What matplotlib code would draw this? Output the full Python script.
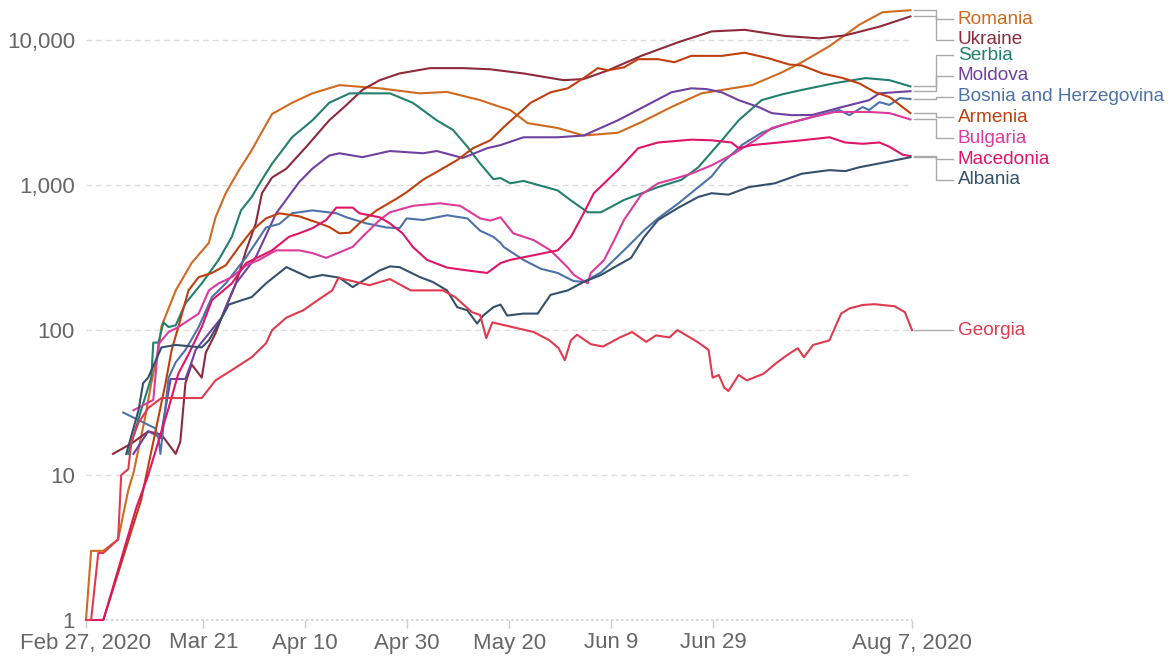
import numpy as np
import pandas as pd
import matplotlib
matplotlib.use("Agg")
import matplotlib.pyplot as plt
from matplotlib.ticker import NullLocator

plt.rcParams["font.family"] = ["Liberation Sans", "DejaVu Sans"]

START = pd.Timestamp("2020-02-27")

# ── data: days since Feb 27, 2020 / value ──
romania_days = [0, 1, 3.4, 6.3, 8.3, 9.3, 11.6, 12.8, 14.2, 14.8, 17.6, 20.7, 24.1, 25.4, 27.4, 30,
                32.5, 33.9, 36.5, 37.9, 40.4, 44.4, 49.7, 57.6, 65.5, 70.8, 77.3, 81.3, 83.2, 86.6,
                92.5, 97.6, 104.3, 108.9, 114.8, 120.7, 130.6, 136.5, 140.4, 145.8, 151.7, 156.2, 161.7]
romania_vals = [1, 3, 3, 3.6, 7.9, 10.3, 25, 43, 73, 106, 188, 290, 400, 600, 880, 1270,
                1740, 2140, 3100, 3300, 3700, 4300, 4900, 4660, 4300, 4400, 3860, 3460, 3300, 2680,
                2480, 2200, 2300, 2720, 3460, 4300, 4900, 6000, 7050, 9100, 12800, 15600, 16100]

ukraine_days = [5.3, 8.9, 12.2, 14.8, 17.6, 18.5, 19.5, 20.7, 22.7, 23.5, 25.4, 27.4, 29.4, 31.4,
                33.3, 34.5, 36.5, 39.3, 43.2, 47.7, 51.1, 54.2, 57.6, 61.5, 67.5, 74, 79.3, 85.8,
                93.7, 97.6, 102.4, 108.9, 116.2, 122.7, 129.2, 137.1, 143.8, 148.9, 155.6, 161.7]
ukraine_vals = [14, 16.5, 20, 19, 14, 17, 43, 58, 47, 70, 95, 144, 210, 355,
                545, 880, 1130, 1300, 1840, 2800, 3580, 4540, 5300, 5900, 6420, 6420, 6300, 5900,
                5300, 5400, 6200, 7800, 9700, 11500, 11800, 10700, 10300, 10800, 12400, 14600]

serbia_days = [8.3, 10.8, 12.8, 13.2, 14.2, 15.2, 16.2, 17.6, 19.5, 22.7, 26, 28.6, 30.4, 32.5,
               34.5, 36.5, 38.5, 40.4, 44.4, 47.7, 51.7, 59.6, 64.1, 68.8, 72, 74.8, 77.3, 79.9,
               81.3, 83.2, 85.8, 92.5, 95, 98.4, 101, 105.5, 112.2, 116.8, 120.1, 124.7, 128,
               132.5, 136.5, 140.4, 146.9, 152.9, 157.6, 161.7]
serbia_vals = [14, 28, 47, 82, 82, 113, 105, 108, 153, 210, 305, 440, 670, 830,
               1090, 1410, 1740, 2140, 2800, 3700, 4300, 4300, 3700, 2800, 2400, 1840, 1410, 1100,
               1120, 1030, 1070, 920, 790, 650, 650, 790, 970, 1090, 1330, 2040, 2800,
               3860, 4230, 4540, 5060, 5480, 5300, 4800]

moldova_days = [9.3, 12.2, 13.6, 14.6, 16.6, 19.5, 20.7, 21.5, 24.1, 26.6, 29.4, 33.3, 37.3, 40.4,
                41.8, 44.4, 47.7, 49.7, 54.2, 59.6, 66.1, 68.8, 73.9, 78.7, 81.3, 85.8, 92.5, 97.6,
                104.3, 108.9, 114.8, 118.7, 121.7, 124.7, 128, 131.9, 134.5, 138.4, 142.4, 148.3,
                153.6, 155.6, 161.7]
moldova_vals = [14, 20, 19, 18, 46, 46, 60, 73, 95, 122, 210, 318, 640, 900,
                1050, 1300, 1600, 1660, 1560, 1720, 1660, 1720, 1540, 1800, 1890, 2140, 2140, 2200,
                2800, 3400, 4370, 4660, 4600, 4370, 3860, 3460, 3140, 3040, 3050, 3460,
                3860, 4300, 4450]

bosnia_days = [7.3, 13.6, 14.2, 14.6, 16.2, 17.6, 19.5, 22.1, 24.7, 27.4, 31.4, 35.3, 37.9, 40.4,
               44.4, 49.1, 51.1, 55, 59, 61.5, 62.9, 66.1, 70.8, 74.8, 77.3, 79.9, 81.3, 81.9,
               85.8, 89.2, 92.5, 95.6, 97.6, 101, 105.5, 109.5, 112.2, 116.2, 120.1, 122.7, 124.7,
               128.6, 132.5, 136.5, 142.4, 147.7, 149.7, 152.3, 153.6, 155.6, 157.6, 159.6, 161.7]
bosnia_vals = [27, 21, 18, 14, 47, 60, 73, 105, 169, 210, 318, 510, 540, 640,
               670, 640, 600, 545, 510, 505, 590, 575, 620, 590, 485, 440, 400, 375,
               305, 265, 248, 218, 215, 250, 355, 490, 590, 750, 970, 1150, 1410,
               1890, 2300, 2600, 2950, 3300, 3040, 3460, 3300, 3740, 3580, 3990, 3930]

armenia_days = [2, 3.4, 10.8, 14.2, 15.6, 16.8, 18.1, 20.1, 22.1, 24.7, 27.4, 30, 32.5, 35.3,
                37.9, 41.8, 45.8, 47.7, 49.7, 51.7, 53.6, 57, 61, 62.9, 66.1, 69.4, 72.8, 75.9,
                79.3, 81.9, 87.2, 91.1, 94.5, 97.6, 100.4, 102.4, 105.5, 108.3, 112.2, 115.4,
                118.7, 124.7, 129.2, 133.9, 137.9, 140.4, 144.4, 148.3, 151.7, 154.8, 157.6, 161.7]
armenia_vals = [1, 1, 6.7, 25, 43, 73, 105, 188, 232, 248, 280, 375, 485, 590,
                640, 610, 545, 515, 465, 470, 545, 670, 810, 895, 1090, 1270, 1490, 1800,
                2040, 2510, 3700, 4370, 4660, 5480, 6420, 6200, 6500, 7400, 7400, 7050,
                7800, 7800, 8200, 7500, 6800, 6700, 5900, 5500, 5030, 4370, 4050, 3140]

bulgaria_days = [9.3, 13.2, 14.2, 16.2, 18.1, 22.1, 24.1, 26, 28.6, 31.4, 33.9, 37.3, 41.8, 44.4,
                 47.1, 52.3, 54.2, 57.6, 59.6, 64.1, 69.4, 73.4, 77.3, 79.3, 81.3, 83.8, 87.8,
                 91.1, 94.5, 95.7, 98.4, 99, 101.6, 103.6, 105.5, 108.9, 112.2, 114.8, 118.7,
                 122.7, 127.2, 131.2, 134.5, 138.5, 142.4, 146.9, 153.6, 157.6, 161.7]
bulgaria_vals = [28, 33, 80, 97, 105, 130, 188, 210, 232, 280, 305, 355, 355, 340,
                 315, 375, 440, 575, 650, 720, 750, 720, 590, 570, 600, 465, 418,
                 355, 270, 240, 210, 248, 304, 418, 575, 860, 1030, 1090, 1200,
                 1370, 1660, 2040, 2480, 2720, 2950, 3200, 3200, 3140, 2840]

macedonia_days = [0, 3.4, 9.9, 12.2, 14.2, 16.2, 18.1, 20.1, 22.7, 24.7, 28.6, 31.4, 36.5, 39.8,
                  41.8, 44.4, 47.1, 49.1, 52.3, 53.6, 57.6, 59.6, 62.1, 64.1, 66.9, 70.8, 74.8,
                  78.7, 81.3, 83.2, 85.8, 92.5, 95.1, 97.6, 99.6, 104.3, 108.3, 112.2, 118.7,
                  122.7, 126.6, 128, 130.6, 135.9, 140.4, 145.8, 148.9, 152.3, 155.6, 157.6,
                  160.2, 161.7]
macedonia_vals = [1, 1, 6, 10, 17, 29, 50, 68, 105, 161, 210, 290, 355, 440,
                  465, 505, 575, 700, 700, 640, 600, 545, 465, 375, 305, 270, 258,
                  248, 290, 305, 318, 355, 440, 640, 880, 1270, 1800, 1970, 2060,
                  2040, 1970, 1800, 1890, 1970, 2040, 2140, 1970, 1930, 1970, 1840,
                  1620, 1590]

albania_days = [7.9, 10.3, 11.2, 12.2, 14.8, 17.6, 22.7, 24.1, 26, 28, 30.6, 32.5, 35.3, 39.3,
                41.8, 43.8, 46.4, 49.7, 52.3, 57.6, 59.6, 61.5, 65.5, 68, 70.8, 72.8, 74.8, 76.7,
                77.9, 79.9, 81.3, 82.6, 85.8, 88.6, 91.1, 94.5, 97.6, 101, 104.3, 106.9, 109.5,
                112.2, 116.2, 120.1, 122.7, 126, 130, 135.1, 140.4, 145.8, 148.9, 151.7, 156.8,
                161.7]
albania_vals = [14, 28, 43, 47, 76, 79, 76, 85, 111, 150, 161, 169, 210, 272,
                248, 230, 240, 230, 198, 258, 275, 272, 232, 215, 188, 144, 137, 111,
                126, 144, 150, 126, 130, 130, 175, 188, 215, 240, 280, 315, 440,
                575, 700, 830, 880, 860, 970, 1030, 1200, 1270, 1250, 1330, 1440,
                1560]

georgia_days = [0, 1, 2.4, 3.4, 6.3, 6.9, 8.3, 8.9, 10.3, 12.2, 14.8, 22.7, 25.4, 28.6, 32.5,
                35.3, 36.5, 39.3, 42.6, 46, 48.3, 49.5, 51.5, 55.6, 59.6, 63.7, 70, 72.4, 75.7,
                77.3, 78.5, 79.7, 82.1, 84.6, 87.8, 90.9, 92.7, 93.9, 95.1, 96.3, 99, 101.4,
                104.7, 107.1, 109.9, 111.8, 114.4, 116, 119.9, 122.1, 122.9, 124.1, 125.2, 126,
                128, 129.6, 132.9, 135.3, 137.7, 139.6, 140.8, 142.6, 145.8, 148.1, 149.7, 152.3,
                154.6, 158.6, 160.6, 162]
georgia_vals = [1, 1, 2.9, 2.9, 3.6, 10, 11, 17, 23, 29, 34, 34, 45, 53, 65,
                81, 100, 122, 137, 166, 188, 229, 221, 204, 225, 188, 188, 169, 133,
                127, 88, 113, 108, 103, 97, 85, 75, 62, 85, 93, 80, 77,
                89, 97, 83, 92, 89, 100, 83, 73, 47, 49, 40, 38,
                49, 45, 50, 59, 68, 75, 65, 79, 85, 130, 141, 149,
                151, 146, 133, 100]

series = [
    ("Romania", romania_days, romania_vals, "#cf6a1f"),
    ("Ukraine", ukraine_days, ukraine_vals, "#8c2a3c"),
    ("Serbia", serbia_days, serbia_vals, "#23806e"),
    ("Moldova", moldova_days, moldova_vals, "#7040a0"),
    ("Bosnia and Herzegovina", bosnia_days, bosnia_vals, "#4d72a8"),
    ("Armenia", armenia_days, armenia_vals, "#bf3f0f"),
    ("Bulgaria", bulgaria_days, bulgaria_vals, "#dc3a9d"),
    ("Macedonia", macedonia_days, macedonia_vals, "#df1567"),
    ("Albania", albania_days, albania_vals, "#35506b"),
    ("Georgia", georgia_days, georgia_vals, "#e03a4e"),
]

tick_dates = ["2020-02-27", "2020-03-21", "2020-04-10", "2020-04-30",
              "2020-05-20", "2020-06-09", "2020-06-29", "2020-08-07"]
tick_labels = ["Feb 27, 2020", "Mar 21", "Apr 10", "Apr 30",
               "May 20", "Jun 9", "Jun 29", "Aug 7, 2020"]
ytick_vals = [1, 10, 100, 1000, 10000]
ytick_labels = ["1", "10", "100", "1,000", "10,000"]

YMAX = 17500
LAST_DAY = (pd.Timestamp(tick_dates[-1]) - START).days


def spread_labels(logs, gap, top):
    """group label positions into clusters so that they keep a minimum gap"""
    order = list(np.argsort(logs)[::-1])
    clusters = [[i] for i in order]
    merged = True
    while merged:
        merged = False
        for k in range(len(clusters) - 1):
            a, b = clusters[k], clusters[k + 1]
            ca = np.mean([logs[i] for i in a])
            cb = np.mean([logs[i] for i in b])
            low_a = ca - (len(a) - 1) / 2 * gap
            high_b = cb + (len(b) - 1) / 2 * gap
            if low_a - high_b < gap:
                clusters[k] = a + b
                del clusters[k + 1]
                merged = True
                break
    pos = {}
    for c in clusters:
        center = np.mean([logs[i] for i in c])
        first = center + (len(c) - 1) / 2 * gap
        first = min(first, top)
        for j, i in enumerate(c):
            pos[i] = first - j * gap
    return [pos[i] for i in range(len(logs))]


# ── figure ──
fig = plt.figure(figsize=(11.75, 6.56), dpi=100)
ax = fig.add_axes([86 / 1175, 36 / 656, 826 / 1175, 615 / 656])
ax.set_yscale("log")
ax.set_ylim(1, YMAX)
ax.set_xlim(0, LAST_DAY)

for v in ytick_vals[1:]:
    ax.axhline(v, color="#dcdcdc", lw=1, ls=(0, (4, 3)), zorder=0)
ax.axhline(1, color="#cfcfcf", lw=1.2, ls=(0, (1.5, 1.5)), zorder=0, clip_on=False)

for name, d, v, c in series:
    ax.plot(d, v, color=c, lw=1.5, clip_on=False, zorder=2, solid_joinstyle="round")

for s in ax.spines.values():
    s.set_visible(False)

tick_days = [(pd.Timestamp(t) - START).days for t in tick_dates]
ax.set_xticks(tick_days)
ax.set_xticklabels(tick_labels)
ax.tick_params(axis="x", length=6, width=1, color="#cccccc", labelsize=16,
               labelcolor="#666666", pad=3)
ax.set_yticks(ytick_vals)
ax.set_yticklabels(ytick_labels)
ax.yaxis.set_minor_locator(NullLocator())
ax.tick_params(axis="y", length=0, labelsize=16, labelcolor="#666666", pad=8)

# ── end labels with elbow connectors ──
px_per_day = 826 / LAST_DAY
gap = 20.75 / 144.75
ends = [np.log10(v[-1]) for _, _, v, _ in series]
label_logs = spread_labels(ends, gap, np.log10(YMAX) - 0.68 * gap)

x0 = LAST_DAY + 2 / px_per_day
x_elbow = LAST_DAY + 24 / px_per_day
x1 = LAST_DAY + 41 / px_per_day
x_text = LAST_DAY + 46 / px_per_day
for (name, d, v, c), e, lp in zip(series, ends, label_logs):
    ye, yl = 10 ** e, 10 ** lp
    ax.plot([x0, x_elbow, x_elbow, x1], [ye, ye, yl, yl], color="#aaaaaa", lw=1,
            clip_on=False, zorder=1)
    ax.text(x_text, yl, name, color=c, fontsize=13.7, va="center", ha="left",
            clip_on=False)

fig.savefig("out.png", dpi=100)
